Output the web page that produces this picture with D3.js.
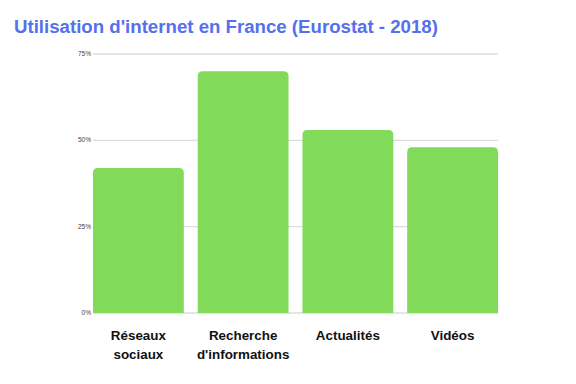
<!DOCTYPE html>
<html>
<head>
<meta charset="utf-8">
<script src="https://cdn.jsdelivr.net/npm/d3@7"></script>
<style>
  html, body { margin: 0; padding: 0; background: #fff; }
  svg { display: block; font-family: "Liberation Sans", Arial, sans-serif; }
</style>
</head>
<body>
<svg id="chart" width="576" height="384"></svg>
<script>
const categories = [["Réseaux", "sociaux"], ["Recherche", "d'informations"], ["Actualités"], ["Vidéos"]];
const values = [42, 70, 53, 48];
const ticks = [0, 25, 50, 75];

const svg = d3.select("#chart");
const plotLeft = 93, plotRight = 498, plotTop = 54, plotBottom = 313;

const x = d3.scaleBand()
    .domain(d3.range(categories.length))
    .range([plotLeft, plotRight])
    .paddingInner(0.133)
    .paddingOuter(0);

const y = d3.scaleLinear().domain([0, 75]).range([plotBottom, plotTop]);

svg.append("text")
    .attr("x", 14)
    .attr("y", 33)
    .attr("fill", "#5470ef")
    .style("font-size", "18.65px")
    .style("font-weight", "700")
    .text("Utilisation d'internet en France (Eurostat - 2018)");

// gridlines
svg.append("g")
    .selectAll("line")
    .data(ticks)
    .join("line")
    .attr("x1", plotLeft)
    .attr("x2", plotRight)
    .attr("y1", d => y(d))
    .attr("y2", d => y(d))
    .attr("stroke", "#dddddd")
    .attr("stroke-width", 1.3);

svg.append("g")
    .selectAll("text")
    .data(ticks)
    .join("text")
    .attr("x", plotLeft - 2)
    .attr("y", d => y(d) + 2)
    .attr("text-anchor", "end")
    .attr("fill", "#444")
    .style("font-size", "6.5px")
    .text(d => d + "%");

// bars, rounded on top only
const r = 5;
const barPath = (i) => {
    const x0 = x(i), x1 = x(i) + x.bandwidth(), y0 = y(values[i]), yb = y(0);
    return `M${x0},${yb}V${y0 + r}Q${x0},${y0} ${x0 + r},${y0}H${x1 - r}Q${x1},${y0} ${x1},${y0 + r}V${yb}Z`;
};

svg.append("g")
    .selectAll("path")
    .data(values)
    .join("path")
    .attr("d", (d, i) => barPath(i))
    .attr("fill", "#81da59");

// category labels
const labels = svg.append("g")
    .selectAll("text")
    .data(categories)
    .join("text")
    .attr("x", (d, i) => x(i) + x.bandwidth() / 2)
    .attr("y", 340)
    .attr("text-anchor", "middle")
    .attr("fill", "#111")
    .style("font-size", "13.4px")
    .style("font-weight", "700");

labels.selectAll("tspan")
    .data(d => d)
    .join("tspan")
    .attr("x", function () { return d3.select(this.parentNode).attr("x"); })
    .attr("dy", (d, j) => j === 0 ? 0 : 18.5)
    .text(d => d);
</script>
</body>
</html>
